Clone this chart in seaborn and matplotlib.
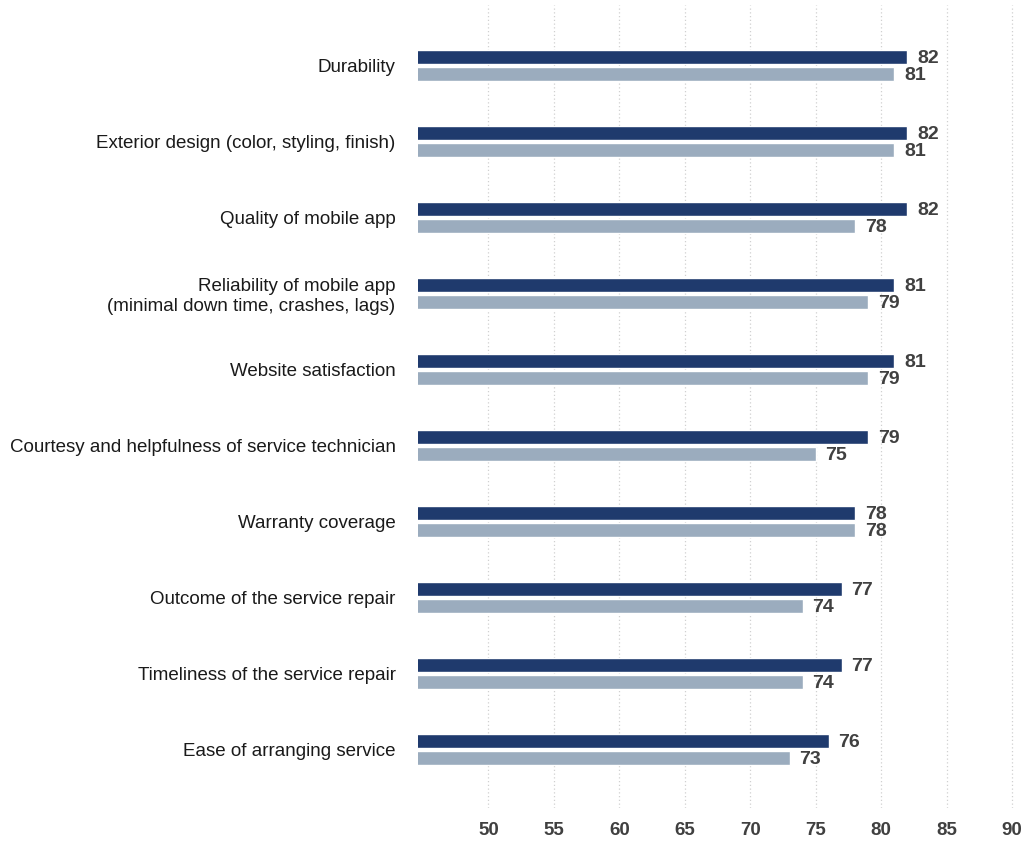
import matplotlib
matplotlib.use("Agg")
import matplotlib.pyplot as plt
import seaborn as sns
import pandas as pd

attributes = [
    "Durability",
    "Exterior design (color, styling, finish)",
    "Quality of mobile app",
    "Reliability of mobile app\n(minimal down time, crashes, lags)",
    "Website satisfaction",
    "Courtesy and helpfulness of service technician",
    "Warranty coverage",
    "Outcome of the service repair",
    "Timeliness of the service repair",
    "Ease of arranging service",
]
current_scores = [82, 82, 82, 81, 81, 79, 78, 77, 77, 76]
previous_scores = [81, 81, 78, 79, 79, 75, 78, 74, 74, 73]
series_names = ["Current", "Previous"]
x_ticks = [50, 55, 60, 65, 70, 75, 80, 85, 90]

df = pd.DataFrame({
    "attribute": attributes * 2,
    "score": current_scores + previous_scores,
    "series": [series_names[0]] * len(attributes) + [series_names[1]] * len(attributes),
})

sns.set_theme(style="white")
plt.rcParams["font.family"] = ["Liberation Sans", "DejaVu Sans"]

fig = plt.figure(figsize=(10.24, 8.42), dpi=100)
ax = fig.add_axes([0.408, 0.040, 0.588, 0.954])

palette = {series_names[0]: "#1F3A6D", series_names[1]: "#9BACBE"}
sns.barplot(
    data=df, y="attribute", x="score", hue="series", order=attributes,
    hue_order=series_names, palette=palette, orient="h",
    width=0.447, gap=0.176, saturation=1, legend=False, ax=ax,
)

ax.set_xlim(44.6, 90.6)
ax.set_ylim(9.78, -0.79)
ax.set_xticks(x_ticks)
ax.set_xlabel("")
ax.set_ylabel("")

for spine in ax.spines.values():
    spine.set_visible(False)

ax.grid(axis="x", color="#D0D0D0", linestyle=(0, (1, 2)), linewidth=0.9)
ax.grid(axis="y", visible=False)
ax.set_axisbelow(True)

ax.tick_params(axis="y", length=0, pad=16, labelsize=13.5, labelcolor="#1A1A1A")
ax.tick_params(axis="x", length=0, pad=10, labelsize=13.5, labelcolor="#404040")
for lbl in ax.get_xticklabels():
    lbl.set_fontweight("bold")

# value labels just right of each bar end, nudged slightly downward
for container in ax.containers:
    for bar in container:
        value = bar.get_x() + bar.get_width()
        y_mid = bar.get_y() + bar.get_height() / 2
        ax.annotate(f"{value:.0f}", xy=(value, y_mid), xytext=(7, -1.5),
                    textcoords="offset points", ha="left", va="center",
                    fontsize=14, fontweight="bold", color="#404040")

fig.savefig("out.png", dpi=100)
